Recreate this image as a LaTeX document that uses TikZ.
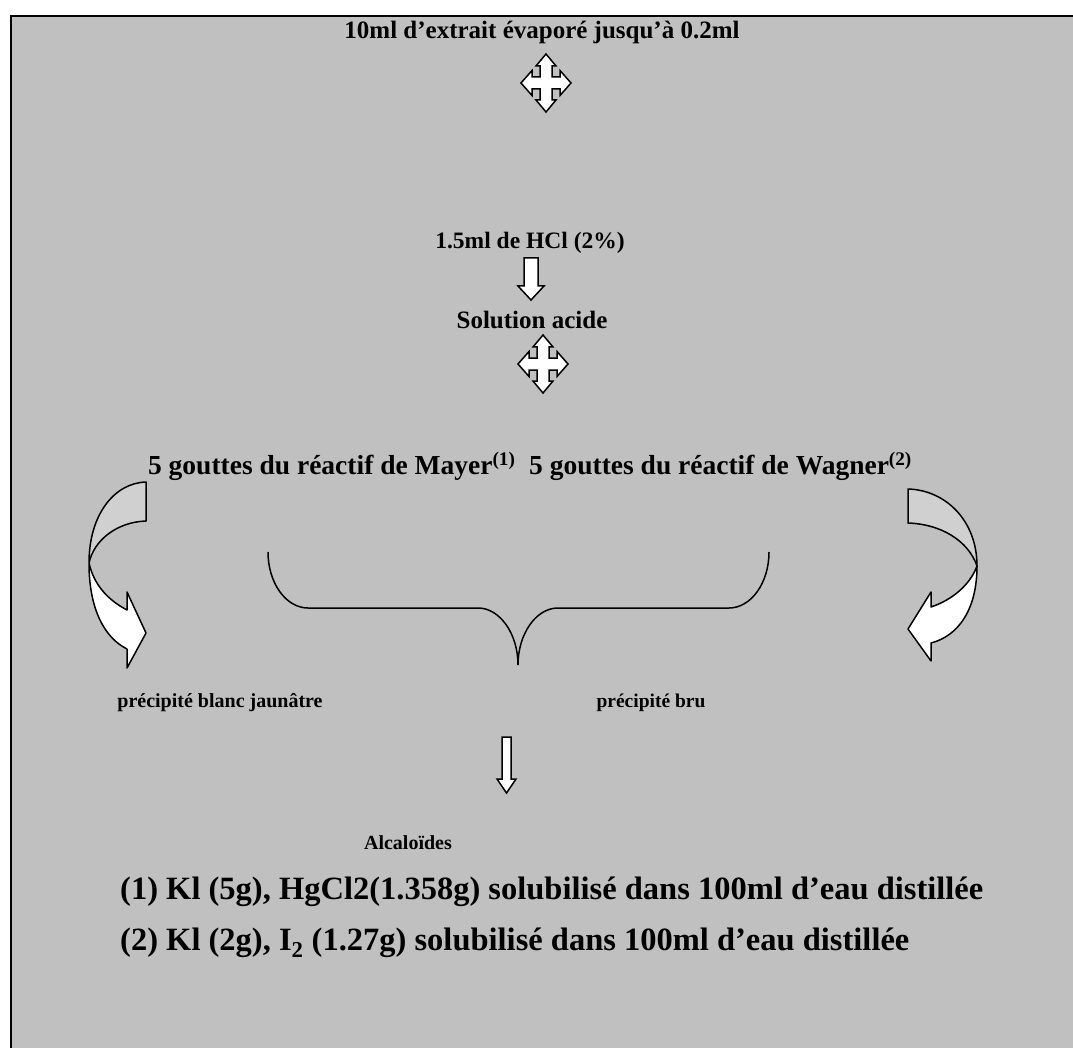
\documentclass[tikz,border=0pt]{standalone}
\usepackage{fontspec}
\setmainfont{Liberation Serif}
\definecolor{bggray}{RGB}{192,192,192}
\definecolor{shadegray}{RGB}{208,208,208}
\tikzset{
  txt/.style={inner sep=0pt, font=\bfseries\fontsize{#1}{#1}\selectfont},
  blockarrow/.style={fill=white, draw=black, line width=1.5pt, line join=miter},
  curvearrow/.style={draw=black, line width=1.5pt, line join=round},
  bracestyle/.style={draw=black, line width=1.5pt}
}
\begin{document}
\begin{tikzpicture}[x=1pt,y=-1pt]
\useasboundingbox (0,0) rectangle (1073,1048);
\fill[bggray] (11,16) rectangle (1073,1048);
\draw[line width=2.2pt] (11,1060) -- (11,16) -- (1080,16);

% texts
\node[txt=25] (title) at (542,32) {10ml d’extrait évaporé jusqu’à 0.2ml};
\node[txt=23.5] (hcl) at (530,243) {1.5ml de HCl (2\%)};
\node[txt=25] (sol) at (532,320) {Solution acide};
\node[txt=27.5] (reag) at (530,466) {5 gouttes du réactif de Mayer\textsuperscript{(1)}\ \ 5 gouttes du réactif de Wagner\textsuperscript{(2)}};
\node[txt=20] (pblanc) at (220,703) {précipité blanc jaunâtre};
\node[txt=19.5] (pbru) at (651,703) {précipité bru};
\node[txt=20] (alc) at (408,843) {Alcaloïdes};
\node[txt=32.5, anchor=west] (note1) at (120,892) {(1)\ Kl (5g), HgCl2(1.358g) solubilisé dans 100ml d’eau distillée};
\node[txt=32.5, anchor=west] (note2) at (120,943) {(2)\ Kl (2g), I\textsubscript{2} (1.27g) solubilisé dans 100ml d’eau distillée};

% quad arrows
\foreach \cx/\cy/\nm in {546/83/qa, 543/364/qb}{
  \coordinate (\nm) at (\cx,\cy);
  \draw[blockarrow, shift={(\nm)}]
    (0,-29) -- (10,-17) -- (6,-17) -- (6,-6) -- (14,-6) -- (14,-12.5) -- (25,0)
    -- (14,12.5) -- (14,6) -- (6,6) -- (6,17) -- (10,17) -- (0,29)
    -- (-10,17) -- (-6,17) -- (-6,6) -- (-14,6) -- (-14,12.5) -- (-25,0)
    -- (-14,-12.5) -- (-14,-6) -- (-6,-6) -- (-6,-17) -- (-10,-17) -- cycle;
}

% down arrow below HCl
\coordinate (da) at (531,258);
\draw[blockarrow, shift={(da)}]
  (-7,0) -- (7,0) -- (7,28) -- (13,28) -- (0,42) -- (-13,28) -- (-7,28) -- cycle;

% small down arrow
\coordinate (db) at (506.5,737);
\draw[blockarrow, shift={(db)}]
  (-4.5,0) -- (4.5,0) -- (4.5,42) -- (9.5,42) -- (0,56) -- (-9.5,42) -- (-4.5,42) -- cycle;

% left curved arrow
\fill[shadegray] (146,482) .. controls (114,483) and (89,515) .. (89,563)
  .. controls (94,540) and (117,522) .. (146,521) -- cycle;
\fill[white] (89,563) .. controls (89,610) and (105,638) .. (127,649)
  -- (127,668) -- (146,633) -- (127,592) -- (127,610)
  .. controls (108,600) and (94,585) .. (89,563) -- cycle;
\draw[curvearrow] (146,482) .. controls (114,483) and (89,515) .. (89,563)
  .. controls (89,610) and (105,638) .. (127,649)
  -- (127,668) -- (146,633) -- (127,592) -- (127,610)
  .. controls (108,600) and (94,585) .. (89,563)
  .. controls (94,540) and (117,522) .. (146,521) -- cycle;

% right curved arrow
\fill[shadegray] (908,489) .. controls (945,490) and (977,520) .. (977,566)
  .. controls (968,540) and (940,524) .. (908,523) -- cycle;
\fill[white] (977,566) .. controls (977,610) and (958,636) .. (931,643)
  -- (931,661) -- (908,629) -- (931,592) -- (931,607)
  .. controls (952,600) and (970,585) .. (977,566) -- cycle;
\draw[curvearrow] (908,489) .. controls (945,490) and (977,520) .. (977,566)
  .. controls (977,610) and (958,636) .. (931,643)
  -- (931,661) -- (908,629) -- (931,592) -- (931,607)
  .. controls (952,600) and (970,585) .. (977,566)
  .. controls (968,540) and (940,524) .. (908,523) -- cycle;

% brace
\coordinate (bl) at (268,552);
\coordinate (bm) at (518,665);
\coordinate (br) at (769,552);
\draw[bracestyle] (bl) .. controls (268,583) and (286,608) .. (308,608)
  -- (478,608) .. controls (500,608) and (518,634) .. (bm)
  .. controls (518,634) and (536,608) .. (558,608)
  -- (729,608) .. controls (751,608) and (769,583) .. (br);
\end{tikzpicture}
\end{document}
